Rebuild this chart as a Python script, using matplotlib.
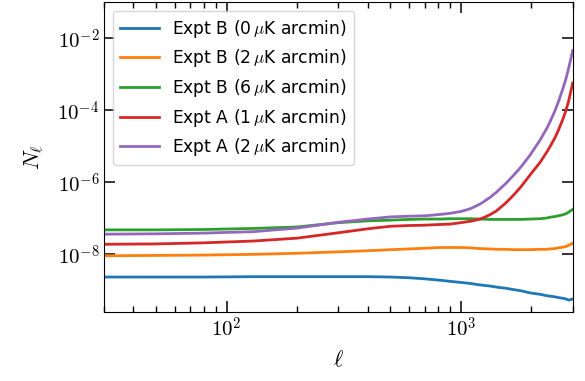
import matplotlib
matplotlib.use("Agg")
import matplotlib.pyplot as plt
from matplotlib.ticker import NullLocator, FuncFormatter
import numpy as np

plt.rcParams["mathtext.fontset"] = "cm"
plt.rcParams["font.size"] = 14

# multipoles and log10 noise curves
ell = [30, 50, 80, 130, 200, 300, 400, 500, 600, 700, 820, 900, 1000, 1100,
       1210, 1330, 1420, 1550, 1680, 1800, 1970, 2180, 2330, 2400, 2520, 2600,
       2730, 2810, 2880, 3000]

log_b0 = [-8.63, -8.63, -8.63, -8.62, -8.62, -8.62, -8.62, -8.63, -8.65, -8.68,
          -8.72, -8.75, -8.78, -8.81, -8.85, -8.88, -8.91, -8.94, -8.98, -9.01,
          -9.07, -9.11, -9.15, -9.16, -9.18, -9.20, -9.22, -9.24, -9.27, -9.24]
log_b2 = [-8.04, -8.03, -8.02, -8.00, -7.97, -7.93, -7.90, -7.87, -7.85, -7.83,
          -7.81, -7.81, -7.81, -7.82, -7.84, -7.85, -7.86, -7.86, -7.87, -7.87,
          -7.87, -7.86, -7.86, -7.85, -7.84, -7.82, -7.80, -7.78, -7.75, -7.69]
log_b6 = [-7.32, -7.32, -7.31, -7.28, -7.24, -7.12, -7.07, -7.05, -7.03, -7.02,
          -7.02, -7.01, -7.01, -7.01, -7.02, -7.03, -7.03, -7.03, -7.03, -7.03,
          -7.02, -7.01, -6.99, -6.97, -6.95, -6.93, -6.90, -6.87, -6.83, -6.75]
log_a1 = [-7.72, -7.71, -7.68, -7.63, -7.55, -7.40, -7.29, -7.22, -7.20, -7.19,
          -7.17, -7.16, -7.12, -7.08, -7.02, -6.90, -6.79, -6.58, -6.35, -6.13,
          -5.80, -5.44, -5.15, -5.01, -4.76, -4.57, -4.23, -3.99, -3.75, -3.24]
log_a2 = [-7.44, -7.43, -7.41, -7.37, -7.27, -7.11, -7.02, -6.96, -6.94, -6.93,
          -6.89, -6.86, -6.81, -6.73, -6.60, -6.42, -6.27, -6.04, -5.80, -5.58,
          -5.25, -4.82, -4.49, -4.32, -4.01, -3.78, -3.38, -3.11, -2.84, -2.34]

curves = [
    (log_b0, r"Expt B (0$\,\mu$K arcmin)"),
    (log_b2, r"Expt B (2$\,\mu$K arcmin)"),
    (log_b6, r"Expt B (6$\,\mu$K arcmin)"),
    (log_a1, r"Expt A (1$\,\mu$K arcmin)"),
    (log_a2, r"Expt A (2$\,\mu$K arcmin)"),
]

fig = plt.figure(figsize=(5.85, 3.81), dpi=100)
ax = fig.add_axes([0.178, 0.181, 0.801, 0.813])

for vals, label in curves:
    ax.loglog(ell, 10.0 ** np.array(vals), lw=2, label=label)

pow10 = FuncFormatter(lambda v, pos: r"$10^{%d}$" % round(np.log10(v)))

ax.set_xlim(30, 3000)
ax.set_ylim(2.5e-10, 1e-1)
ax.set_yticks([1e-8, 1e-6, 1e-4, 1e-2])
ax.yaxis.set_minor_locator(NullLocator())
ax.xaxis.set_major_formatter(pow10)
ax.yaxis.set_major_formatter(pow10)
ax.tick_params(which="both", direction="in", top=True, right=True)
ax.tick_params(which="major", length=8, width=1.1, labelsize=15)
ax.tick_params(which="minor", length=4, width=1.0)

ax.set_xlabel(r"$\ell$", fontsize=16, labelpad=6)
ax.set_ylabel(r"$N_\ell$", fontsize=16, labelpad=8)
ax.legend(loc="upper left", fontsize=12.3, handlelength=2.3,
          handletextpad=0.8, labelspacing=0.45)

fig.savefig("out.png", dpi=100)
